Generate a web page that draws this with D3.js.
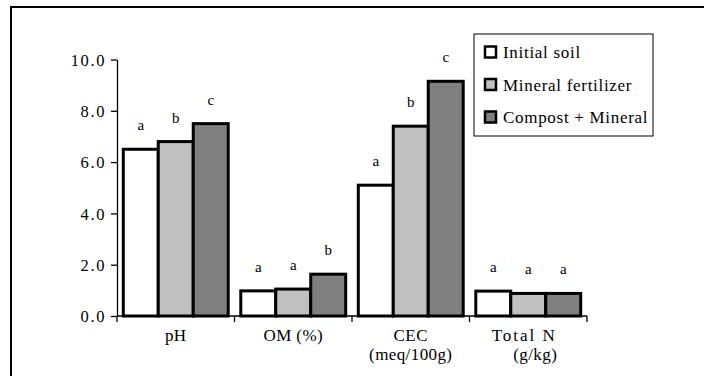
<!DOCTYPE html>
<html>
<head>
<meta charset="utf-8">
<script src="https://cdn.jsdelivr.net/npm/d3@7"></script>
<style>
  body { margin: 0; background: #fff; }
  svg text { font-family: "Liberation Serif", "Times New Roman", Times, "DejaVu Serif", serif; fill: #000; }
</style>
</head>
<body>
<svg id="chart" width="704" height="376"></svg>
<script>
// chart data
const categories = ["pH", "OM (%)", "CEC|(meq/100g)", "Total N|(g/kg)"];
const series = ["Initial soil", "Mineral fertilizer", "Compost + Mineral"];
const initialSoil = [6.5, 0.98, 5.1, 0.97];
const mineralFert = [6.8, 1.05, 7.4, 0.88];
const compostMineral = [7.5, 1.63, 9.15, 0.88];
const letters = [["a", "b", "c"], ["a", "a", "b"], ["a", "b", "c"], ["a", "a", "a"]];
const yTicks = [0, 2, 4, 6, 8, 10];

const values = [initialSoil, mineralFert, compostMineral];
const fills = ["#ffffff", "#c0c0c0", "#808080"];
const serif = '"Liberation Serif", "Times New Roman", Times, "DejaVu Serif", serif';

const svg = d3.select("#chart");

// outer frame (runs off the right / bottom edge)
svg.append("rect")
  .attr("x", 11).attr("y", 7)
  .attr("width", 720).attr("height", 400)
  .attr("fill", "none").attr("stroke", "#000").attr("stroke-width", 2);

const x = d3.scaleBand().domain(d3.range(categories.length)).range([117, 587]);
const xSub = d3.scaleBand().domain(d3.range(series.length))
  .range([0, x.bandwidth()]).paddingInner(0).paddingOuter(0.18);
const y = d3.scaleLinear().domain([0, 10]).range([316, 59.5]);

// y axis
const yAxis = svg.append("g")
  .attr("transform", "translate(117,0)")
  .attr("font-family", serif)
  .call(d3.axisLeft(y).tickValues(yTicks).tickSize(6).tickSizeOuter(0)
    .tickFormat(d3.format(".1f")));
yAxis.select(".domain").attr("stroke-width", 1.3);
yAxis.selectAll(".tick line").attr("stroke-width", 1.3);
yAxis.selectAll("text")
  .attr("x", -11)
  .attr("dy", "0.35em")
  .style("font-size", "16.5px")
  .style("letter-spacing", "1.6px");

// bars
categories.forEach((c, ci) => {
  series.forEach((s, si) => {
    const v = values[si][ci];
    const bx = x(ci) + xSub(si);
    svg.append("rect")
      .attr("x", bx).attr("y", y(v))
      .attr("width", xSub.bandwidth()).attr("height", y(0) - y(v))
      .attr("fill", fills[si]).attr("stroke", "#000").attr("stroke-width", 3);
    svg.append("text")
      .attr("x", bx + xSub.bandwidth() / 2).attr("y", y(v) - 19)
      .attr("text-anchor", "middle")
      .style("font-size", "15px")
      .text(letters[ci][si]);
  });
});

// x axis with separators
svg.append("line")
  .attr("x1", 117).attr("x2", 587).attr("y1", y(0)).attr("y2", y(0))
  .attr("stroke", "#000").attr("stroke-width", 1.3);
const seps = d3.range(categories.length + 1).map(i => i < categories.length ? x(i) : x(i - 1) + x.bandwidth());
svg.selectAll(".sep").data(seps).join("line")
  .attr("x1", d => d).attr("x2", d => d)
  .attr("y1", y(0)).attr("y2", y(0) + 6)
  .attr("stroke", "#000").attr("stroke-width", 1.3);

// category labels
categories.forEach((c, ci) => {
  const parts = c.split("|");
  const cx = x(ci) + x.bandwidth() / 2;
  const isN = ci === 3;
  parts.forEach((p, pi) => {
    svg.append("text")
      .attr("x", cx + (isN ? (pi === 0 ? -4 : 7) : 0))
      .attr("y", 341 + pi * 19)
      .attr("text-anchor", "middle")
      .style("font-size", "17px")
      .style("letter-spacing", isN && pi === 0 ? "2px" : "0.4px")
      .text(p);
  });
});

// legend
const lg = svg.append("g");
lg.append("rect")
  .attr("x", 474).attr("y", 34).attr("width", 179).attr("height", 102)
  .attr("fill", "#fff").attr("stroke", "#000").attr("stroke-width", 1);
series.forEach((s, si) => {
  const cy = 52 + si * 32.5;
  lg.append("rect")
    .attr("x", 485).attr("y", cy - 5.5).attr("width", 11).attr("height", 11)
    .attr("fill", fills[si]).attr("stroke", "#000").attr("stroke-width", 2.5);
  lg.append("text")
    .attr("x", 503).attr("y", cy + 6)
    .style("font-size", "17px")
    .style("letter-spacing", "0.7px")
    .text(s);
});
</script>
</body>
</html>
